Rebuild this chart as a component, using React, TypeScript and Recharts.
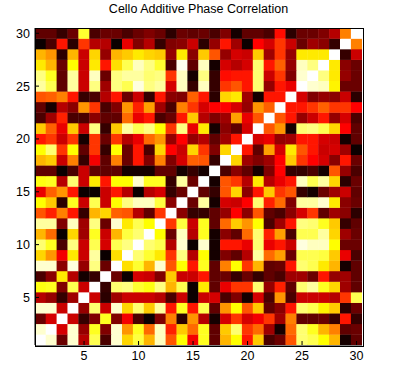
import { ScatterChart, Scatter, XAxis, YAxis } from 'recharts'

const title = 'Cello Additive Phase Correlation'
const tickValues = [5, 10, 15, 20, 25, 30]

// correlation values (0..1), one array per row, columns 1..30
const row30 = [0.13, 0.13, 0.07, 0.14, 0.8, 0.1, 0.14, 0.14, 0.1, 0.14, 0.17, 0.14, 0.05, 0.14, 0.12, 0.14, 0.1, 0.17, 0.02, 0.12, 0.12, 0.1, 0.38, 0.05, 0.14, 0.14, 0.17, 0.26, 0.55, 1.0]
const row29 = [0.0, 0.1, 0.4, 0.05, 0.45, 0.26, 0.26, 0.0, 0.33, 0.17, 0.26, 0.07, 0.17, 0.19, 0.28, 0.05, 0.21, 0.39, 0.23, 0.0, 0.37, 0.3, 0.45, 0.28, 0.14, 0.23, 0.19, 0.07, 1.0, 0.55]
const row28 = [0.63, 0.59, 0.05, 0.63, 0.28, 0.68, 0.21, 0.63, 0.66, 0.72, 0.69, 0.67, 0.21, 0.72, 0.19, 0.66, 0.49, 0.21, 0.3, 0.28, 0.66, 0.23, 0.45, 0.21, 0.72, 0.71, 0.71, 1.0, 0.07, 0.28]
const row27 = [0.72, 0.63, 0.14, 0.75, 0.28, 0.72, 0.39, 0.7, 0.83, 0.93, 0.88, 0.8, 0.1, 0.98, 0.12, 0.93, 0.02, 0.3, 0.26, 0.3, 0.85, 0.4, 0.5, 0.21, 0.93, 0.87, 1.0, 0.71, 0.19, 0.14]
const row26 = [0.87, 0.78, 0.12, 0.9, 0.28, 0.93, 0.14, 0.88, 0.91, 0.9, 0.85, 0.87, 0.45, 0.93, 0.02, 0.87, 0.07, 0.38, 0.4, 0.39, 0.85, 0.28, 0.45, 0.17, 0.95, 1.0, 0.87, 0.71, 0.21, 0.14]
const row25 = [0.91, 0.83, 0.12, 0.91, 0.28, 0.88, 0.23, 0.87, 0.83, 0.97, 0.87, 0.9, 0.3, 0.93, 0.07, 0.93, 0.07, 0.45, 0.49, 0.4, 0.85, 0.21, 0.39, 0.33, 1.0, 0.95, 0.93, 0.73, 0.14, 0.14]
const row24 = [0.49, 0.5, 0.55, 0.4, 0.07, 0.1, 0.26, 0.39, 0.14, 0.28, 0.07, 0.4, 0.19, 0.17, 0.5, 0.4, 0.05, 0.68, 0.71, 0.23, 0.02, 0.4, 0.4, 1.0, 0.3, 0.17, 0.21, 0.19, 0.28, 0.05]
const row23 = [0.12, 0.02, 0.26, 0.19, 0.59, 0.45, 0.1, 0.17, 0.59, 0.42, 0.6, 0.23, 0.1, 0.55, 0.45, 0.3, 0.37, 0.37, 0.3, 0.21, 0.59, 0.5, 1.0, 0.4, 0.39, 0.45, 0.5, 0.45, 0.45, 0.37]
const row22 = [0.1, 0.23, 0.42, 0.1, 0.1, 0.19, 0.12, 0.12, 0.53, 0.33, 0.4, 0.1, 0.14, 0.4, 0.66, 0.26, 0.17, 0.23, 0.6, 0.33, 0.49, 1.0, 0.49, 0.4, 0.21, 0.28, 0.4, 0.21, 0.3, 0.1]
const row21 = [0.66, 0.5, 0.33, 0.66, 0.28, 0.87, 0.07, 0.66, 0.91, 0.83, 0.87, 0.75, 0.45, 0.88, 0.33, 0.72, 0.02, 0.19, 0.12, 0.3, 1.0, 0.49, 0.59, 0.02, 0.85, 0.87, 0.83, 0.68, 0.37, 0.12]
const row20 = [0.4, 0.45, 0.28, 0.45, 0.02, 0.45, 0.14, 0.45, 0.26, 0.33, 0.53, 0.59, 0.21, 0.37, 0.21, 0.26, 0.12, 0.23, 0.4, 1.0, 0.3, 0.33, 0.21, 0.23, 0.4, 0.39, 0.3, 0.28, 0.02, 0.12]
const row19 = [0.75, 0.85, 0.45, 0.75, 0.12, 0.45, 0.07, 0.75, 0.14, 0.4, 0.1, 0.68, 0.37, 0.28, 0.68, 0.45, 0.17, 0.68, 1.0, 0.4, 0.12, 0.6, 0.3, 0.71, 0.49, 0.4, 0.28, 0.3, 0.23, 0.0]
const row18 = [0.63, 0.66, 0.28, 0.55, 0.07, 0.35, 0.12, 0.55, 0.14, 0.4, 0.17, 0.55, 0.17, 0.3, 0.5, 0.49, 0.07, 1.0, 0.68, 0.23, 0.17, 0.23, 0.37, 0.67, 0.45, 0.37, 0.3, 0.19, 0.39, 0.14]
const row17 = [0.12, 0.12, 0.0, 0.1, 0.28, 0.12, 0.12, 0.12, 0.02, 0.02, 0.02, 0.12, 0.12, 0.02, 0.07, 0.02, 1.0, 0.1, 0.19, 0.12, 0.02, 0.17, 0.37, 0.07, 0.07, 0.1, 0.02, 0.49, 0.21, 0.1]
const row16 = [0.76, 0.78, 0.26, 0.85, 0.28, 0.71, 0.4, 0.75, 0.75, 0.95, 0.78, 0.78, 0.07, 0.91, 0.14, 1.0, 0.02, 0.49, 0.45, 0.26, 0.72, 0.26, 0.33, 0.4, 0.93, 0.83, 0.91, 0.69, 0.05, 0.14]
const row15 = [0.33, 0.5, 0.59, 0.4, 0.0, 0.0, 0.28, 0.4, 0.26, 0.0, 0.26, 0.3, 0.07, 0.14, 1.0, 0.12, 0.07, 0.49, 0.69, 0.19, 0.39, 0.66, 0.45, 0.49, 0.07, 0.02, 0.14, 0.23, 0.28, 0.12]
const row14 = [0.75, 0.66, 0.05, 0.78, 0.28, 0.83, 0.28, 0.75, 0.87, 0.93, 0.93, 0.81, 0.19, 1.0, 0.14, 0.9, 0.02, 0.3, 0.28, 0.37, 0.85, 0.42, 0.53, 0.17, 0.91, 0.91, 0.95, 0.72, 0.19, 0.14]
const row13 = [0.49, 0.42, 0.55, 0.4, 0.07, 0.63, 0.69, 0.5, 0.49, 0.26, 0.12, 0.45, 1.0, 0.19, 0.07, 0.07, 0.12, 0.21, 0.37, 0.19, 0.49, 0.12, 0.1, 0.19, 0.3, 0.45, 0.12, 0.23, 0.19, 0.05]
const row12 = [0.91, 0.9, 0.17, 0.93, 0.23, 0.88, 0.14, 0.95, 0.71, 0.83, 0.75, 1.0, 0.45, 0.81, 0.28, 0.78, 0.12, 0.53, 0.67, 0.59, 0.75, 0.1, 0.23, 0.4, 0.87, 0.85, 0.77, 0.66, 0.07, 0.12]
const row11 = [0.63, 0.53, 0.0, 0.68, 0.23, 0.77, 0.28, 0.63, 0.81, 0.85, 1.0, 0.75, 0.14, 0.93, 0.26, 0.78, 0.02, 0.19, 0.12, 0.53, 0.85, 0.42, 0.6, 0.1, 0.83, 0.83, 0.9, 0.69, 0.23, 0.14]
const row10 = [0.85, 0.78, 0.1, 0.87, 0.28, 0.83, 0.3, 0.83, 0.87, 1.0, 0.85, 0.83, 0.26, 0.95, 0.0, 0.95, 0.02, 0.4, 0.4, 0.33, 0.85, 0.33, 0.4, 0.28, 0.97, 0.93, 0.93, 0.75, 0.14, 0.14]
const row9 = [0.69, 0.59, 0.35, 0.71, 0.28, 0.91, 0.0, 0.7, 1.0, 0.85, 0.8, 0.71, 0.45, 0.87, 0.26, 0.75, 0.02, 0.17, 0.12, 0.26, 0.91, 0.53, 0.6, 0.14, 0.83, 0.83, 0.81, 0.66, 0.33, 0.1]
const row8 = [0.95, 0.95, 0.19, 0.97, 0.21, 0.88, 0.14, 1.0, 0.7, 0.8, 0.63, 0.95, 0.49, 0.75, 0.4, 0.78, 0.12, 0.55, 0.75, 0.45, 0.63, 0.12, 0.14, 0.39, 0.85, 0.83, 0.71, 0.63, 0.02, 0.12]
const row7 = [0.1, 0.19, 0.72, 0.26, 0.02, 0.07, 1.0, 0.14, 0.0, 0.3, 0.28, 0.17, 0.66, 0.28, 0.28, 0.39, 0.12, 0.14, 0.07, 0.14, 0.07, 0.12, 0.1, 0.23, 0.23, 0.14, 0.39, 0.21, 0.23, 0.12]
const row6 = [0.76, 0.77, 0.17, 0.83, 0.28, 1.0, 0.07, 0.85, 0.87, 0.8, 0.76, 0.87, 0.63, 0.83, 0.0, 0.71, 0.12, 0.33, 0.45, 0.45, 0.85, 0.21, 0.42, 0.12, 0.85, 0.91, 0.78, 0.69, 0.23, 0.12]
const row5 = [0.26, 0.21, 0.07, 0.23, 1.0, 0.28, 0.05, 0.23, 0.28, 0.28, 0.28, 0.26, 0.1, 0.28, 0.0, 0.28, 0.3, 0.1, 0.17, 0.02, 0.3, 0.1, 0.59, 0.1, 0.28, 0.28, 0.28, 0.26, 0.45, 0.83]
const row4 = [0.95, 0.95, 0.28, 1.0, 0.21, 0.85, 0.28, 0.95, 0.69, 0.85, 0.67, 0.91, 0.4, 0.78, 0.4, 0.83, 0.12, 0.59, 0.75, 0.49, 0.66, 0.12, 0.19, 0.4, 0.85, 0.83, 0.73, 0.66, 0.05, 0.14]
const row3 = [0.14, 0.3, 1.0, 0.28, 0.07, 0.17, 0.78, 0.17, 0.35, 0.1, 0.0, 0.17, 0.55, 0.05, 0.59, 0.26, 0.02, 0.3, 0.45, 0.3, 0.35, 0.45, 0.23, 0.55, 0.12, 0.12, 0.14, 0.07, 0.4, 0.07]
const row2 = [0.95, 1.0, 0.3, 0.95, 0.21, 0.78, 0.17, 0.95, 0.59, 0.77, 0.53, 0.93, 0.42, 0.66, 0.53, 0.78, 0.12, 0.66, 0.85, 0.45, 0.53, 0.23, 0.02, 0.53, 0.85, 0.78, 0.63, 0.55, 0.12, 0.14]
const row1 = [1.0, 0.95, 0.14, 0.95, 0.26, 0.83, 0.1, 0.95, 0.69, 0.81, 0.63, 0.93, 0.49, 0.75, 0.35, 0.78, 0.12, 0.63, 0.75, 0.4, 0.66, 0.1, 0.14, 0.49, 0.85, 0.83, 0.75, 0.63, 0.02, 0.12]

const rows = [row1, row2, row3, row4, row5, row6, row7, row8, row9, row10, row11, row12, row13, row14, row15,
    row16, row17, row18, row19, row20, row21, row22, row23, row24, row25, row26, row27, row28, row29, row30]

const cells = rows.flatMap((row, r) => row.map((v, c) => ({ x: c + 1, y: r + 1, v })))

const WIDTH = 394
const HEIGHT = 380
const MARGIN = { top: 28, right: 32, left: 0, bottom: 5 }
const Y_AXIS_W = 35
const X_AXIS_H = 30
const PLOT_W = WIDTH - MARGIN.left - MARGIN.right - Y_AXIS_W
const PLOT_H = HEIGHT - MARGIN.top - MARGIN.bottom - X_AXIS_H
const FONT = '"Liberation Sans", Arial, Helvetica, sans-serif'

// matlab hot(64)
function hot(v: number) {
    const i = Math.max(0, Math.min(63, Math.round(v * 63)))
    const r = i < 24 ? (i + 1) / 24 : 1
    const g = i < 24 ? 0 : i < 48 ? (i - 23) / 24 : 1
    const b = i < 48 ? 0 : (i - 47) / 16
    const to = (c: number) => Math.round(c * 255)
    return `rgb(${to(r)},${to(g)},${to(b)})`
}

function HeatCell(props: any) {
    const { cx, cy, payload } = props
    const w = PLOT_W / 30
    const h = PLOT_H / 30
    // small overlap so no seams between cells
    return <rect x={cx - w / 2 - 0.2} y={cy - h / 2 - 0.2} width={w + 0.4} height={h + 0.4} fill={hot(payload.v)} />
}

function BottomTick({ x, y, payload }: any) {
    return (
        <g>
            <line x1={x} y1={y} x2={x} y2={y - 4} stroke="#000" />
            <text x={x} y={y + 15} textAnchor="middle" fontSize={12.5} fontFamily={FONT} fill="#000">{payload.value}</text>
        </g>
    )
}

function LeftTick({ x, y, payload }: any) {
    return (
        <g>
            <line x1={x} y1={y} x2={x + 4} y2={y} stroke="#000" />
            <text x={x - 5} y={y + 4.5} textAnchor="end" fontSize={12.5} fontFamily={FONT} fill="#000">{payload.value}</text>
        </g>
    )
}

export default function App() {
    return (
        <div style={{ position: 'absolute', left: 0, top: 0, width: WIDTH, height: HEIGHT, background: '#fff' }}>
            <div style={{ position: 'absolute', left: Y_AXIS_W, top: 0, width: PLOT_W, textAlign: 'center', fontFamily: FONT, fontSize: 12.5, lineHeight: '18px', color: '#000' }}>
                {title}
            </div>
            <ScatterChart width={WIDTH} height={HEIGHT} margin={MARGIN}>
                <Scatter data={cells} shape={<HeatCell />} isAnimationActive={false} />
                <XAxis
                    type="number"
                    dataKey="x"
                    domain={[0.5, 30.5]}
                    ticks={tickValues}
                    allowDataOverflow
                    height={X_AXIS_H}
                    tickSize={0}
                    tickMargin={0}
                    tickLine={false}
                    axisLine={{ stroke: '#000' }}
                    tick={<BottomTick />}
                />
                <XAxis
                    xAxisId="top"
                    orientation="top"
                    type="number"
                    domain={[0.5, 30.5]}
                    ticks={tickValues}
                    allowDataOverflow
                    height={0}
                    mirror
                    tickSize={4}
                    tick={false}
                    tickLine={{ stroke: '#000' }}
                    axisLine={{ stroke: '#000' }}
                />
                <YAxis
                    type="number"
                    dataKey="y"
                    domain={[0.5, 30.5]}
                    ticks={tickValues}
                    allowDataOverflow
                    width={Y_AXIS_W}
                    tickSize={0}
                    tickMargin={0}
                    tickLine={false}
                    axisLine={{ stroke: '#000' }}
                    tick={<LeftTick />}
                />
                <YAxis
                    yAxisId="right"
                    orientation="right"
                    type="number"
                    domain={[0.5, 30.5]}
                    ticks={tickValues}
                    allowDataOverflow
                    width={0}
                    mirror
                    tickSize={4}
                    tick={false}
                    tickLine={{ stroke: '#000' }}
                    axisLine={{ stroke: '#000' }}
                />
            </ScatterChart>
            {/* frame drawn on top of the cells, like the matlab axes box */}
            <div style={{ position: 'absolute', left: Y_AXIS_W - 0.5, top: MARGIN.top - 0.5, width: PLOT_W, height: PLOT_H, border: '1px solid #000', pointerEvents: 'none' }} />
        </div>
    )
}
